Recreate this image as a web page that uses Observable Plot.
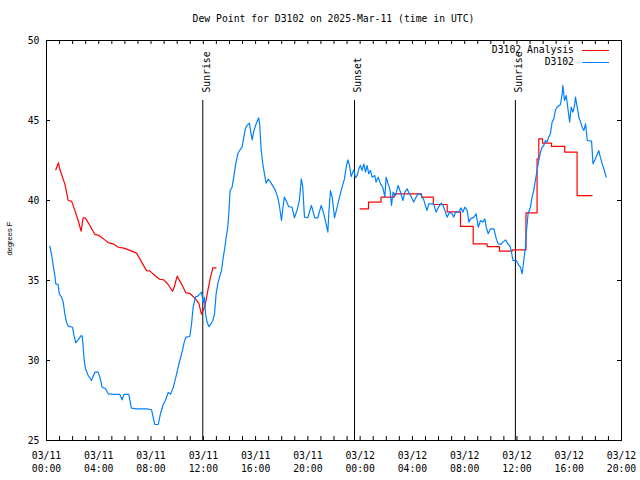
<!DOCTYPE html>
<html><head><meta charset="utf-8">
<script src="https://cdn.jsdelivr.net/npm/d3@7"></script>
<script src="https://cdn.jsdelivr.net/npm/@observablehq/plot@0.6"></script>
<style>
body{margin:0;background:#fff;}
#wrap{position:relative;width:640px;height:480px;font-family:"DejaVu Sans Mono",monospace;font-size:9.75px;color:#000;}
#title{position:absolute;left:0;width:667px;top:13px;line-height:12px;text-align:center;}
.leg{position:absolute;right:66px;line-height:12px;white-space:pre;}
.sw{position:absolute;left:582px;width:27px;height:0;}
svg{position:absolute;left:0;top:0;}
</style></head><body>
<div id="wrap"></div>
<script>
const titleText = "Dew Point for D3102 on 2025-Mar-11 (time in UTC)";
const yLabel = "degrees F";
const seriesNames = ["D3102 Analysis", "D3102"];
const seriesColors = ["#ff0000", "#0080ff"];
const yTicks = [25, 30, 35, 40, 45, 50];
const xLabelHours = [0, 4, 8, 12, 16, 20, 24, 28, 32, 36, 40, 44];
const xTickHours = [0,1,2,3,4,5,6,7,8,9,10,11,12,13,14,15,16,17,18,19,20,21,22,23,24,25,26,27,28,29,30,31,32,33,34,35,36,37,38,39,40,41,42,43,44];
const startUTC = Date.UTC(2025, 2, 11);
const endHour = 44;

// events: hour offset from 03/11 00:00 UTC
const eventHours = [11.96, 23.57, 35.88];
const eventLabels = ["Sunrise", "Sunset", "Sunrise"];

// D3102 observations [hour, degF]
const d3102 = [
[0.25,37.15],[0.38,36.67],[0.51,35.94],[0.64,35.31],[0.71,34.79],[0.89,34.75],[0.97,34.17],[1.15,33.96],[1.28,33.65],[1.4,32.92],
[1.53,32.4],[1.66,32.15],[1.99,32.08],[2.09,31.62],[2.24,31.1],[2.42,31.29],[2.63,31.54],[2.73,31.54],[2.81,30.83],[2.86,30.2],
[2.98,29.48],[3.19,29.06],[3.44,28.75],[3.7,29.27],[3.95,29.27],[4.08,28.96],[4.26,28.33],[4.52,28.23],[4.72,27.92],[5.1,27.88],
[5.61,27.88],[5.79,27.54],[5.92,27.88],[6.3,27.88],[6.5,27.02],[6.89,26.98],[7.65,26.98],[8.04,26.92],[8.16,26.46],[8.29,26.0],
[8.55,26.0],[8.72,26.67],[8.93,27.25],[9.1,27.5],[9.31,28.0],[9.49,27.9],[9.69,28.29],[9.9,28.96],[10.08,29.6],[10.2,30.0],
[10.4,30.62],[10.54,31.15],[10.66,31.46],[10.97,31.5],[11.1,32.29],[11.22,33.33],[11.4,33.96],[11.6,34.04],[11.86,34.27],[11.99,33.6],
[12.08,33.96],[12.17,32.92],[12.29,32.4],[12.42,32.12],[12.55,32.25],[12.73,32.5],[12.86,32.92],[12.98,34.17],[13.11,34.79],[13.24,35.21],
[13.39,35.62],[13.49,36.25],[13.65,37.08],[13.75,37.71],[13.87,38.33],[13.95,39.17],[14.05,40.62],[14.2,40.83],[14.33,41.46],[14.46,42.19],
[14.64,42.92],[14.77,43.12],[14.97,43.33],[15.1,43.96],[15.23,44.54],[15.41,44.75],[15.53,44.83],[15.61,44.38],[15.74,43.79],[15.86,44.33],
[16.04,44.79],[16.24,45.17],[16.32,44.69],[16.42,43.23],[16.55,42.29],[16.68,41.67],[16.8,41.08],[16.96,41.33],[17.14,41.15],[17.34,40.88],
[17.52,40.62],[17.69,40.21],[17.82,39.69],[17.98,38.75],[18.08,39.48],[18.2,40.21],[18.33,40.0],[18.53,39.62],[18.79,39.58],[18.97,38.92],
[19.17,39.38],[19.35,40.0],[19.5,41.35],[19.61,40.83],[19.74,38.96],[19.99,38.92],[20.27,39.69],[20.53,38.92],[20.76,38.92],[21.02,39.69],
[21.22,39.17],[21.42,38.44],[21.53,38.02],[21.6,39.17],[21.73,40.62],[21.86,40.21],[22.04,38.92],[22.24,39.58],[22.45,40.31],[22.62,40.83],
[22.8,41.35],[22.93,42.08],[23.06,42.54],[23.19,42.19],[23.31,41.5],[23.52,41.92],[23.64,41.42],[23.77,41.56],[23.9,41.98],[24.02,42.19],
[24.15,41.88],[24.28,42.29],[24.41,41.77],[24.53,42.19],[24.66,41.67],[24.79,41.88],[24.92,41.46],[25.12,41.56],[25.22,41.15],[25.38,41.46],
[25.56,41.04],[25.73,40.83],[25.89,40.21],[25.99,41.46],[26.14,41.04],[26.27,40.73],[26.4,39.69],[26.52,40.52],[26.7,40.31],[26.91,40.94],
[27.09,40.52],[27.27,40.0],[27.42,40.52],[27.59,40.73],[27.77,40.42],[27.93,40.21],[28.1,39.9],[28.28,40.21],[28.43,40.42],[28.61,40.42],
[28.87,40.04],[28.99,39.69],[29.12,39.38],[29.25,39.79],[29.63,39.79],[29.81,39.27],[30.02,39.62],[30.22,39.83],[30.35,39.69],[30.53,39.27],
[30.66,38.96],[30.84,39.27],[31.04,39.17],[31.17,38.96],[31.3,39.27],[31.55,39.27],[31.73,39.54],[31.86,39.27],[32.01,39.58],[32.19,39.38],
[32.32,38.65],[32.45,38.85],[32.7,38.96],[32.88,39.17],[33.04,38.33],[33.21,38.75],[33.39,38.65],[33.54,38.85],[33.65,38.33],[33.8,37.92],
[33.98,38.23],[34.24,38.23],[34.42,37.6],[34.57,37.29],[34.75,37.25],[34.93,37.4],[35.13,37.54],[35.31,37.29],[35.44,37.19],[35.56,36.88],
[35.69,36.25],[35.95,36.25],[36.15,35.94],[36.27,35.83],[36.4,35.42],[36.52,36.25],[36.65,37.08],[36.73,38.12],[36.85,39.17],[37.03,39.58],
[37.16,40.21],[37.28,40.62],[37.41,41.25],[37.54,41.88],[37.67,42.5],[37.8,43.02],[37.92,43.33],[38.05,43.44],[38.18,43.75],[38.31,43.65],
[38.43,43.96],[38.56,44.17],[38.69,44.9],[38.82,45.1],[38.94,45.62],[39.07,45.83],[39.33,46.0],[39.46,46.67],[39.51,47.19],[39.64,46.25],
[39.77,46.56],[39.92,45.62],[40.03,44.9],[40.15,45.83],[40.28,45.52],[40.41,45.94],[40.48,46.46],[40.61,45.83],[40.74,45.2],[40.87,44.9],
[40.99,44.58],[41.12,44.38],[41.25,44.79],[41.38,43.75],[41.71,43.71],[41.82,42.29],[42.0,42.6],[42.26,43.12],[42.38,42.71],[42.52,42.29],
[42.65,41.98],[42.83,41.46]
];

// D3102 Analysis, first run [hour, degF]
const analysisA = [
[0.71,41.92],[0.92,42.36],[1.0,42.0],[1.4,41.04],[1.66,40.0],[1.92,39.96],[2.17,39.38],[2.42,38.75],[2.65,38.08],[2.8,38.92],
[2.98,38.9],[3.32,38.44],[3.7,37.88],[4.05,37.8],[4.46,37.54],[4.72,37.37],[5.1,37.29],[5.48,37.08],[5.92,37.02],[6.38,36.88],
[6.89,36.71],[7.14,36.35],[7.65,35.62],[7.9,35.6],[8.29,35.31],[8.67,35.08],[8.98,35.04],[9.31,34.75],[9.64,34.33],[9.77,34.58],
[10.0,35.27],[10.33,34.79],[10.66,34.23],[10.96,34.2],[11.35,33.9],[11.65,33.58],[11.86,32.9],[11.96,33.1],[12.04,33.2],[12.17,33.58],
[12.37,34.48],[12.55,35.2],[12.73,35.79],[12.98,35.79]
];

// D3102 Analysis, second run (stepped) [hour, degF]
const analysisB = [
[24.0,39.48],[24.64,39.9],[25.6,40.21],[26.6,40.42],[28.7,40.21],[29.6,39.75],[30.66,39.29],[31.68,38.38],[32.65,37.29],[33.72,37.12],
[34.66,36.83],[35.63,36.92],[36.69,39.23],[37.54,42.6],[37.67,43.85],[37.96,43.58],[38.64,43.38],[39.66,43.02],[40.6,40.31],[41.75,40.31]
];

const toDate = h => new Date(startUTC + h * 3600e3);
const rows = arr => arr.map(([h, v]) => ({time: toDate(h), value: v}));
const obs = rows(d3102), anA = rows(analysisA), anB = rows(analysisB);
const events = eventHours.map((h, i) => ({time: toDate(h), label: eventLabels[i]}));
const labelDates = xLabelHours.map(toDate);
const tickDates = xTickHours.map(toDate);
const x0 = toDate(0), x1 = toDate(endHour);
const yMin = yTicks[0], yMax = yTicks[yTicks.length - 1];

const chart = Plot.plot({
  width: 640, height: 480,
  marginLeft: 46, marginRight: 19, marginTop: 40, marginBottom: 40,
  style: {fontFamily: "'DejaVu Sans Mono', monospace", fontSize: "9.75px", background: "transparent", color: "black", overflow: "visible"},
  x: {type: "utc", domain: [x0, x1]},
  y: {domain: [yMin, yMax]},
  marks: [
    Plot.ruleX(tickDates, {x: d => d, y1: yMin, y2: yMin, insetTop: -4, stroke: "black"}),
    Plot.ruleX(tickDates, {x: d => d, y1: yMax, y2: yMax, insetBottom: -4, stroke: "black"}),
    Plot.ruleY(yTicks, {y: d => d, x1: x0, x2: x0, insetRight: -4, stroke: "black"}),
    Plot.ruleY(yTicks, {y: d => d, x1: x1, x2: x1, insetLeft: -4, stroke: "black"}),
    Plot.axisY({ticks: yTicks, tickSize: 0, tickPadding: 7, label: null}),
    Plot.axisX({ticks: labelDates, tickSize: 0, tickPadding: 10, tickFormat: d3.utcFormat("%m/%d\n%H:%M"), lineHeight: 1.28, label: null}),
    Plot.text([yLabel], {text: d => d, frameAnchor: "left", textAnchor: "middle", dx: -36.5, dy: -2, rotate: -90, fontFamily: "'Liberation Sans', Arial, sans-serif", fontSize: 7.5}),
    Plot.ruleX(events, {x: "time", insetTop: 60, stroke: "black"}),
    Plot.text(events, {x: "time", text: "label", frameAnchor: "top", dy: 52, rotate: -90, textAnchor: "start"}),
    Plot.line(anA, {x: "time", y: "value", stroke: seriesColors[0], strokeWidth: 1.2}),
    Plot.line(anB, {x: "time", y: "value", stroke: seriesColors[0], strokeWidth: 1.2, curve: "step-after"}),
    Plot.line(obs, {x: "time", y: "value", stroke: seriesColors[1], strokeWidth: 1.2}),
    Plot.frame({stroke: "black"})
  ]
});

const wrap = document.getElementById("wrap");
wrap.appendChild(chart);
const t = document.createElement("div");
t.id = "title"; t.textContent = titleText; wrap.appendChild(t);
seriesNames.forEach((name, i) => {
  const cy = 50 + i * 12;
  const l = document.createElement("div");
  l.className = "leg"; l.style.top = (cy - 6) + "px"; l.textContent = name;
  wrap.appendChild(l);
  const s = document.createElement("div");
  s.className = "sw"; s.style.top = cy + "px"; s.style.borderTop = "1.3px solid " + seriesColors[i];
  wrap.appendChild(s);
});
</script>
</body></html>
